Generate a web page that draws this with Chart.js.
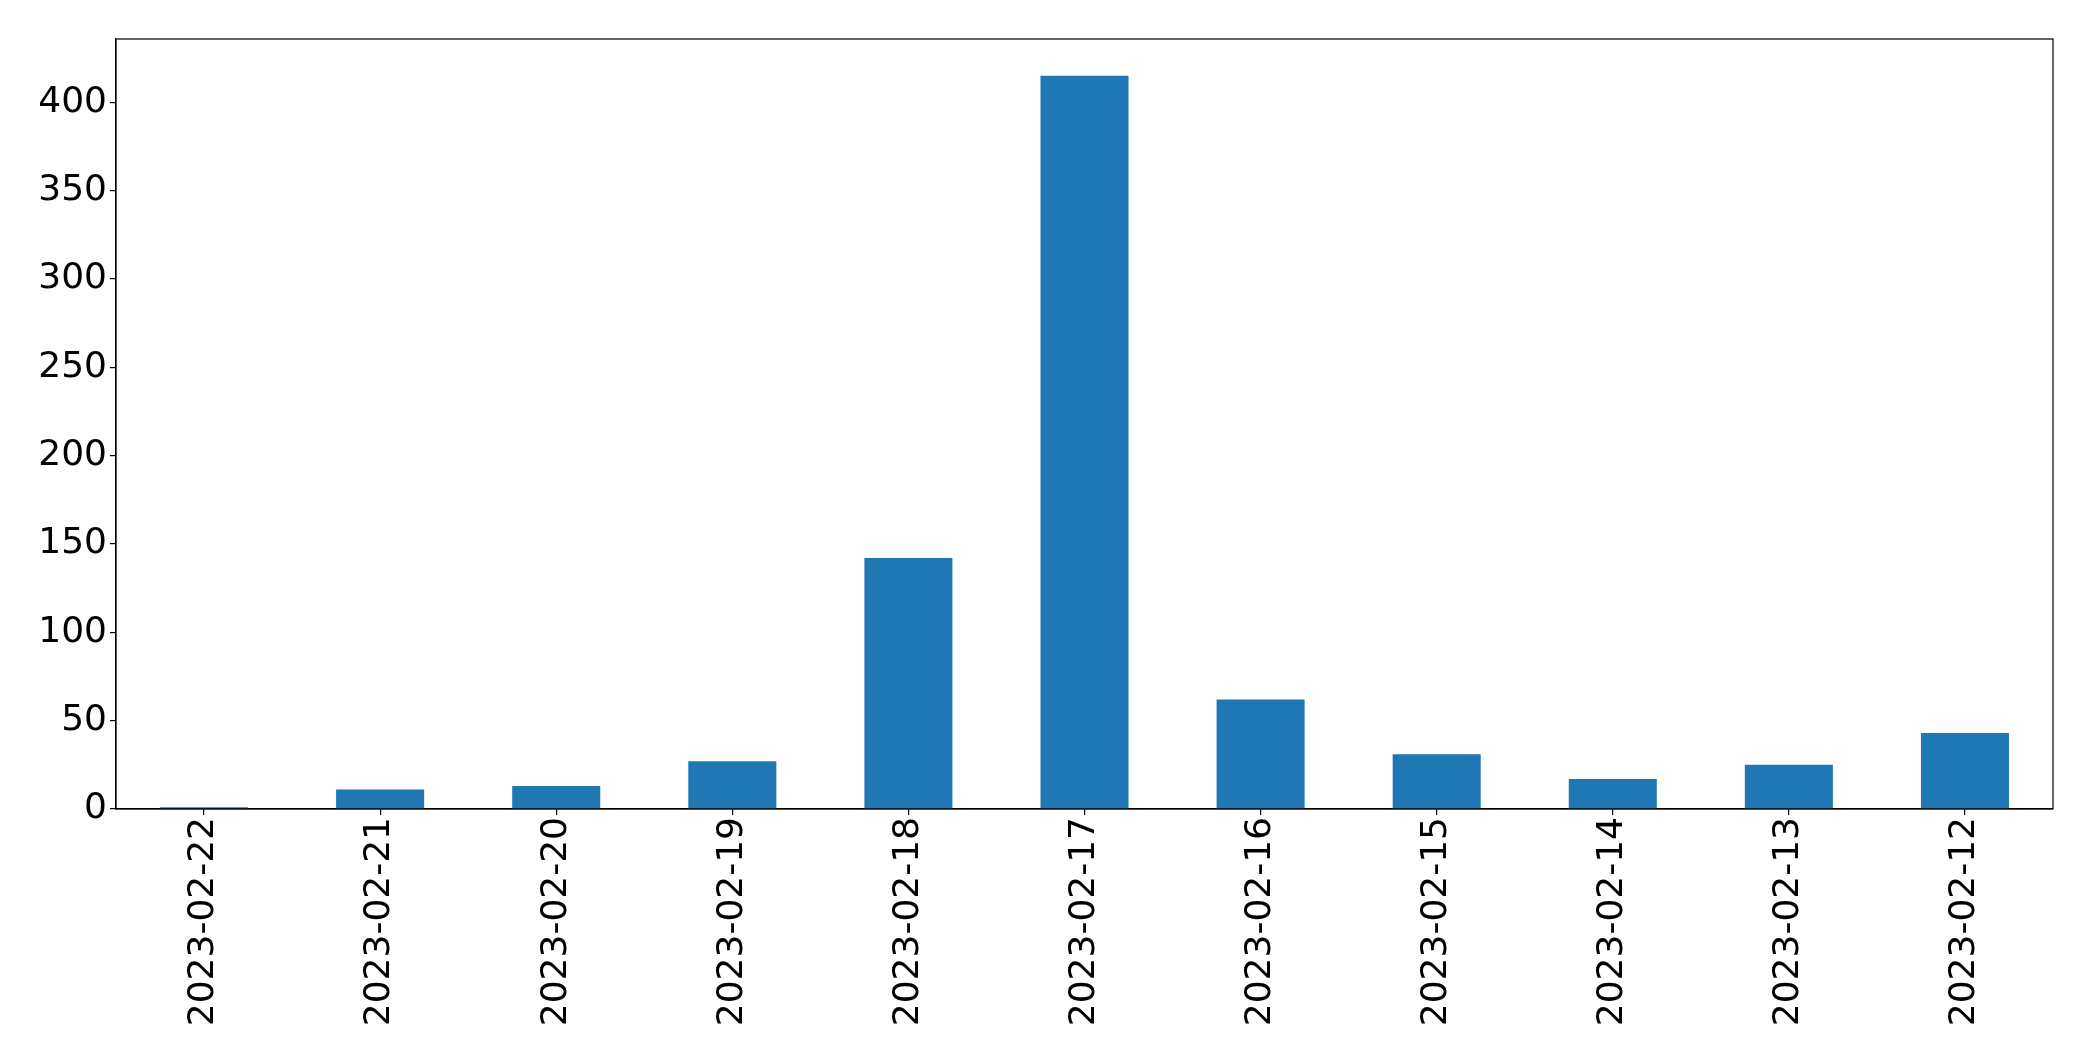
<!DOCTYPE html>
<html>
<head>
<meta charset="utf-8">
<title>Daily counts</title>
<script src="https://cdn.jsdelivr.net/npm/chart.js@4/dist/chart.umd.min.js"></script>
<style>
    html, body { margin: 0; padding: 0; background: #fff; }
    #chart { display: block; }
</style>
</head>
<body>
<canvas id="chart" width="2093" height="1061"></canvas>
<script>
// Dữ liệu
const dates = [
    '2023-02-22', '2023-02-21', '2023-02-20', '2023-02-19', '2023-02-18', '2023-02-17',
    '2023-02-16', '2023-02-15', '2023-02-14', '2023-02-13', '2023-02-12'
];
const counts = [1, 11, 13, 27, 142, 415, 62, 31, 17, 25, 43];
const yTicks = [0, 50, 100, 150, 200, 250, 300, 350, 400];

const barColor = '#1f77b4';
const fontSpec = { family: 'DejaVu Sans', size: 36 };

// Khung viền 4 cạnh như matplotlib
const frameBox = {
    id: 'frameBox',
    afterDraw(chart) {
        const { ctx, chartArea: a } = chart;
        ctx.save();
        ctx.strokeStyle = '#000';
        ctx.lineWidth = 1.2;
        ctx.strokeRect(a.left, a.top, a.right - a.left, a.bottom - a.top);
        ctx.restore();
    }
};

const ctx = document.getElementById('chart').getContext('2d');
new Chart(ctx, {
    type: 'bar',
    data: {
        labels: dates,
        datasets: [{
            data: counts,
            backgroundColor: barColor,
            borderWidth: 0,
            barPercentage: 0.5,
            categoryPercentage: 1.0
        }]
    },
    options: {
        responsive: false,
        animation: false,
        layout: { padding: { top: 39, right: 40, left: 0, bottom: 0 } },
        plugins: {
            legend: { display: false },
            tooltip: { enabled: false }
        },
        scales: {
            x: {
                offset: true,
                grid: { offset: false, drawOnChartArea: false, drawTicks: true, tickLength: 6, color: '#000', lineWidth: 1.2 },
                border: { display: true, color: '#000', width: 1.2 },
                ticks: {
                    color: '#000',
                    font: fontSpec,
                    minRotation: 90,
                    maxRotation: 90,
                    autoSkip: false,
                    padding: 2
                },
                afterFit(scale) { scale.height = 252; }
            },
            y: {
                min: 0,
                max: 435.75,
                afterBuildTicks(scale) {
                    scale.ticks = yTicks.map(v => ({ value: v }));
                },
                grid: { drawOnChartArea: false, drawTicks: true, tickLength: 6, color: '#000', lineWidth: 1.2 },
                border: { display: true, color: '#000', width: 1.2 },
                ticks: {
                    color: '#000',
                    font: fontSpec,
                    padding: 3
                },
                afterFit(scale) { scale.width = 116; }
            }
        }
    },
    plugins: [frameBox]
});
</script>
</body>
</html>
